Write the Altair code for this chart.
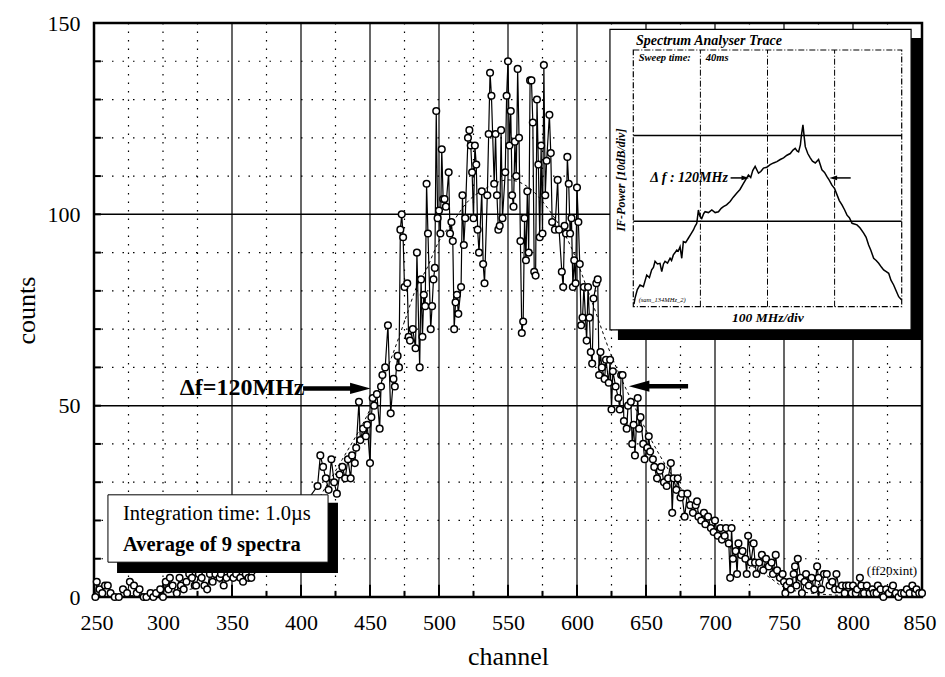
import altair as alt
import pandas as pd

# ---------------- data ----------------
tail_left = [(251,0),(252,4),(254,2),(256,1),(258,3),(260,3),(262,1),(265,0),(268,0),(271,2),(274,1),(276,4),
             (279,3),(281,1),(283,2),(286,0),(288,0),(291,1),(293,0),(295,1),(298,2),(300,0),(302,4),(304,2),
             (305,5),(307,3),(310,1),(312,5),(313,3),(315,2),(317,4),(319,6),(321,5),(323,3),(324,3),(326,6),
             (328,5),(330,3),(332,2),(334,6),(336,4),(338,6),(341,5),(342,6),(344,3),(346,5),(349,6),(351,5),
             (353,6),(356,5),(358,4),(360,6),(362,5),(364,5)]
rise = [(412,29),(414,37),(416,34),(418,31),(420,28),(422,36),(424,30),(426,27),(428,32),(430,34),(432,31),
        (434,36),(436,31),(437,37),(439,35),(440,39),(442,51),(443,41),(445,44),(447,42),(448,45),(450,35),
        (451,47),(452,52),(453,50),(455,53),(457,44),(458,55),(459,58),(461,60),(463,71),(465,48),(467,57),
        (468,55),(470,63),(471,60),(472,96),(473,100),(474,94),(475,81),(477,82),(478,68),(479,67),(481,70),
        (483,65),(484,90),(486,60),(487,83),(488,68)]
peak = [(489,79),(490,76),(491,108),(492,95),(494,70),(495,76),(496,83),(497,86),(498,127),(499,99),(500,101),
        (501,95),(502,117),(503,104),(504,104),(505,102),(507,111),(508,95),(509,98),(510,93),(511,70),(512,77),
        (513,79),(514,74),(516,81),(517,105),(518,92),(519,99),(521,120),(522,122),(523,118),(524,111),(525,99),
        (526,118),(527,113),(528,96),(529,90),(531,106),(532,87),(533,82),(535,105),(536,121),(537,137),(538,131),
        (540,108),(541,121),(542,105),(543,96),(544,97),(545,122),(546,99),(548,111),(549,131),(550,140),(551,118),
        (552,127),(553,105),(554,102),(555,119),(556,110),(557,138),(558,120),(559,93),(560,69),(561,72),(562,99),
        (563,88),(564,106),(565,90),(566,135),(567,135),(568,124),(569,85),(570,84),(571,130),(572,113),(573,94),
        (574,118),(575,95),(576,139),(577,105),(578,114),(580,126),(581,116),(582,98),(584,96),(586,109),(587,96),
        (589,85),(590,81),(591,97),(592,95),(593,115),(594,108),(595,95),(596,99),(597,81),(598,88),(599,82),
        (600,107),(601,98),(602,87)]
fall = [(603,71),(604,73),(605,81),(607,67),(608,81),(609,73),(610,64),(611,61),(612,78),(614,82),(615,83),
        (616,58),(617,64),(618,60),(620,57),(621,62),(623,56),(624,62),(625,49),(626,59),(628,55),(630,52),
        (631,49),(632,58),(633,58),(634,46),(636,44),(637,50),(639,51),(640,40),(641,45),(642,37),(644,52),
        (645,44),(646,47),(648,40),(649,36),(651,39),(652,42),(653,38),(655,36),(656,34),(658,31),(660,33),
        (661,34),(663,30),(665,29),(666,31),(668,35),(669,22),(670,31),(672,28),(673,31),(675,26),(676,27),
        (678,21),(680,27),(682,24),(684,22),(686,24),(687,25),(688,21),(690,20),(692,22),(693,19),(695,21),
        (697,18),(699,17),(700,20)]
tail_right = [(702,16),(704,18),(705,15),(707,16),(708,18),(710,14),(711,5),(712,18),(713,10),(715,12),(716,6),
              (717,14),(719,11),(720,12),(722,10),(723,6),(724,16),(726,9),(728,14),(729,9),(730,6),(732,9),
              (734,11),(735,7),(737,10),(739,8),(741,9),(742,6),(744,11),(745,7),(747,5),(749,6),(750,4),(751,1),
              (752,3),(754,4),(755,2),(757,6),(758,8),(759,3),(760,10),(762,5),(763,1),(765,4),(766,6),(768,3),
              (770,5),(772,2),(774,8),(775,5),(777,2),(779,6),(781,6),(783,3),(785,4),(787,2),(788,6),(790,2),
              (792,3),(794,1),(795,3),(797,3),(799,1),(800,3),(802,1),(803,2),(805,5),(806,3),(808,1),(810,3),
              (812,1),(814,2),(815,1),(817,1),(818,3),(820,2),(822,0),(824,2),(826,1),(828,2),(829,3),(831,1),
              (833,0),(835,1),(837,1),(839,2),(841,1),(843,3),(845,1),(846,2),(848,1),(850,1)]

fit_channel = [250,300,350,380,400,415,430,450,465,475,485,490,500,510,520,535,550,565,580,595,610,625,640,
               660,680,700,720,740,750,760,800,850]
fit_counts = [0,1,5,10,18,27,36,49,62,72,82,85,93,98,103,107,109,107,101,92,78,63,51,
              37,26,17,10,5,2.5,1.5,0.3,0]

# inset trace: frequency offset (MHz) and power (dB)
inset_mhz = [1,2.5,6,10,15,20,24,27.4,30,32.4,36,39.8,42.4,45,47.3,51,54.8,57,59.7,62,64.8,67,69.7,72.2,
             74.6,78,82,86,89.6,92,94.6,97,99,102,105,107,112,117,122,126.9,131,134.3,139,144.3,149,154.3,
             159,164.2,168,171.6,175,178,181.6,186.6,190,194,199,204,209,214,219,223.9,229,233.9,238,241.3,
             244,246.3,249,250.5,252.8,254.5,256.3,260,263.7,267,271.2,276.1,281.1,285,288.6,292,296,300,
             303.5,307,311,315,318.5,322,326,333.4,338,343.3,347,350.7,354,358.2,362,365.7,370,373.1,377,
             380.6,384,388,392,395.5,400]
inset_db = [0.3,0.98,2.0,2.54,2.34,3.7,3.4,4.3,4.6,5.3,5.0,5.07,4.1,5.0,5.3,5.1,5.66,5.4,6.05,6.3,6.63,
            6.5,7.0,5.66,7.6,7.5,8.0,8.5,8.97,9.4,9.75,11.3,10.6,10.3,10.9,11.1,11.0,11.3,11.0,11.1,11.5,
            11.7,11.9,12.3,12.8,13.3,13.7,14.4,14.9,15.4,15.1,15.9,16.4,15.6,15.8,16.2,16.3,16.6,16.8,16.96,
            17.2,17.4,17.7,17.9,18.3,18.5,18.2,18.1,18.9,20.0,21.25,20.0,18.7,17.9,17.4,17.0,16.8,17.2,16.0,
            15.7,15.2,14.8,14.2,13.8,13.1,12.4,11.9,11.3,10.7,10.4,9.75,9.56,9.2,8.6,8.1,7.2,6.6,5.66,5.4,
            5.07,4.6,4.3,4.1,3.9,3.1,2.54,1.8,1.17,0.78]

x_labels = [250, 300, 350, 400, 450, 500, 550, 600, 650, 700, 750, 800, 850]
y_labels = [0, 50, 100, 150]
x_grid_solid = [350, 400, 450, 500, 550, 600, 650, 700, 750, 800]
x_grid_dotted = [275, 300, 325, 375, 425, 475, 525, 575, 625, 675, 725, 775, 825]
y_grid_solid = [50, 100]
y_grid_dotted = [10, 20, 30, 40, 60, 70, 80, 90, 110, 120, 130, 140]
x_ticks_major = [300, 350, 400, 450, 500, 550, 600, 650, 700, 750, 800]
x_ticks_minor = [275, 325, 375, 425, 475, 525, 575, 625, 675, 725, 775, 825]
y_ticks = [10, 20, 30, 40, 50, 60, 70, 80, 90, 100, 110, 120, 130, 140]
inset_mhz_grid = [100, 200, 300]
inset_db_grid = [10, 20]

points = tail_left + rise + peak + fall + tail_right
df = pd.DataFrame(points, columns=["channel", "counts"])
fit_df = pd.DataFrame({"channel": fit_channel, "counts": fit_counts})
inset_df = pd.DataFrame({"mhz": inset_mhz, "db": inset_db})
one = pd.DataFrame({"a": [0]})

SERIF = "Liberation Serif"

xs = alt.Scale(domain=[250, 850], nice=False, zero=False)
ys = alt.Scale(domain=[0, 150], nice=False, zero=False)
x_axis = alt.Axis(values=x_labels, grid=False, ticks=False, domain=False, labelFont=SERIF,
                  labelFontSize=22, labelPadding=15, labelColor="black", title="channel",
                  titleFont=SERIF, titleFontSize=26, titleFontWeight="normal", titleColor="black",
                  titlePadding=10, labelFlush=True, labelFlushOffset=14)
y_axis = alt.Axis(values=y_labels, grid=False, ticks=False, domain=False, labelFont=SERIF,
                  labelFontSize=22, labelPadding=14, labelColor="black", title="counts",
                  titleFont=SERIF, titleFontSize=26, titleFontWeight="normal", titleColor="black",
                  titlePadding=8, labelFlush=False)


def X(field):
    return alt.X(field, type="quantitative", scale=xs, axis=x_axis, title="channel")


def Y(field):
    return alt.Y(field, type="quantitative", scale=ys, axis=y_axis, title="counts")


def vals(name, values):
    return alt.Chart(pd.DataFrame({name: values}))


base = alt.Chart(df)

grid_y_dot = vals("v", y_grid_dotted).mark_rule(color="black", strokeWidth=1.2, strokeDash=[1.5, 9]).encode(y=Y("v"))
grid_y_sol = vals("v", y_grid_solid).mark_rule(color="black", strokeWidth=1.5).encode(y=Y("v"))
grid_x_dot = vals("v", x_grid_dotted).mark_rule(color="black", strokeWidth=1.2, strokeDash=[1.5, 7]).encode(x=X("v"))
grid_x_sol = vals("v", x_grid_solid).mark_rule(color="black", strokeWidth=1.2).encode(x=X("v"))

ticks_y = vals("v", y_ticks).mark_rule(color="black", strokeWidth=2).encode(
    y=Y("v"), x=alt.datum(250), x2=alt.datum(255))
ticks_x_major = vals("v", x_ticks_major).mark_rule(color="black", strokeWidth=2).encode(
    x=X("v"), y=alt.datum(0), y2=alt.datum(3.2))
ticks_x_minor = vals("v", x_ticks_minor).mark_rule(color="black", strokeWidth=2).encode(
    x=X("v"), y=alt.datum(0), y2=alt.datum(1.6))

fit_line = alt.Chart(fit_df).mark_line(color="black", strokeWidth=1, strokeDash=[3, 3],
                                       interpolate="monotone").encode(x=X("channel"), y=Y("counts"))
data_line = base.mark_line(color="black", strokeWidth=1.2).encode(x=X("channel"), y=Y("counts"))
data_pts = base.mark_point(shape="circle", filled=True, fill="white", stroke="black", strokeWidth=1.5,
                           size=44, opacity=1).encode(x=X("channel"), y=Y("counts"))

# text box with shadow
box_shadow = alt.Chart(one).mark_rect(color="black").encode(
    x=alt.datum(266.7), x2=alt.datum(426.8), y=alt.datum(6.3), y2=alt.datum(24.6))
box = alt.Chart(one).mark_rect(fill="white", stroke="black", strokeWidth=1).encode(
    x=alt.datum(260.1), x2=alt.datum(419.6), y=alt.datum(9.1), y2=alt.datum(26.7))
box_t1 = alt.Chart(one).mark_text(text="Integration time: 1.0µs", font=SERIF, fontSize=20.5,
                                  align="left", baseline="middle", color="black").encode(
    x=alt.datum(271), y=alt.datum(21.6))
box_t2 = alt.Chart(one).mark_text(text="Average of 9 spectra", font=SERIF, fontSize=20.5,
                                  fontWeight="bold", align="left", baseline="middle",
                                  color="black").encode(x=alt.datum(271), y=alt.datum(13.6))

df_label = alt.Chart(one).mark_text(text="Δf=120MHz", font=SERIF, fontSize=24, fontWeight="bold",
                                    align="right", baseline="middle", color="black").encode(
    x=alt.datum(402.5), y=alt.datum(54.5))
arrow_l_shaft = alt.Chart(one).mark_rule(color="black", strokeWidth=4.5).encode(
    x=alt.datum(401.5), x2=alt.datum(437), y=alt.datum(54.5))
arrow_l_head = alt.Chart(one).mark_point(shape="M-1,-0.55L1,0L-1,0.55Z", filled=True, color="black",
                                         size=420, opacity=1).encode(x=alt.datum(443), y=alt.datum(54.5))
arrow_r_shaft = alt.Chart(one).mark_rule(color="black", strokeWidth=4.5).encode(
    x=alt.datum(651), x2=alt.datum(680.5), y=alt.datum(55.1))
arrow_r_head = alt.Chart(one).mark_point(shape="M1,-0.55L-1,0L1,0.55Z", filled=True, color="black",
                                         size=420, opacity=1).encode(x=alt.datum(645), y=alt.datum(55.1))
ff_label = alt.Chart(one).mark_text(text="(ff20xint)", font=SERIF, fontSize=13, align="left",
                                    baseline="middle", color="black").encode(x=alt.datum(810), y=alt.datum(6.8))

main = alt.layer(grid_y_dot, grid_y_sol, grid_x_dot, grid_x_sol, ticks_y, ticks_x_major, ticks_x_minor,
                 fit_line, data_line, data_pts, box_shadow, box, box_t1, box_t2, df_label,
                 arrow_l_shaft, arrow_l_head, arrow_r_shaft, arrow_r_head, ff_label)

# ---------------- inset ----------------
ixs = alt.Scale(domain=[0, 400], range=[539.3, 807.7], nice=False, zero=False)
iys = alt.Scale(domain=[0, 30], range=[283.7, 27], nice=False, zero=False)


def IX(field):
    return alt.X(field, type="quantitative", scale=ixs, axis=None)


def IY(field):
    return alt.Y(field, type="quantitative", scale=iys, axis=None)


def IXd(v):
    return alt.X(datum=v, scale=ixs, axis=None)


def IYd(v):
    return alt.Y(datum=v, scale=iys, axis=None)


i_shadow = alt.Chart(one).mark_rect(color="black").encode(
    x=IXd(-22.9), x2=alt.datum(429.4), y=IYd(-3.9), y2=alt.datum(31.4))
i_box = alt.Chart(one).mark_rect(fill="white", stroke="black", strokeWidth=1.2).encode(
    x=IXd(-34.8), x2=alt.datum(414), y=IYd(-2.7), y2=alt.datum(32.4))
i_frame = alt.Chart(one).mark_rect(fill="white", stroke="black", strokeWidth=1.2, strokeDash=[6, 2, 1, 2]).encode(
    x=IXd(0), x2=alt.datum(400), y=IYd(0), y2=alt.datum(30))
i_vgrid = vals("v", inset_mhz_grid).mark_rule(color="black", strokeWidth=1, strokeDash=[6, 2, 1, 2]).encode(
    x=IX("v"), y=IYd(0), y2=alt.datum(30))
i_hgrid = vals("v", inset_db_grid).mark_rule(color="black", strokeWidth=1.5).encode(
    y=IY("v"), x=IXd(0), x2=alt.datum(400))
i_trace = alt.Chart(inset_df).mark_line(color="black", strokeWidth=1.5).encode(x=IX("mhz"), y=IY("db"))


def itext(txt, x, y, size, align="left", angle=0, weight="bold"):
    return alt.Chart(one).mark_text(text=txt, font=SERIF, fontSize=size, fontStyle="italic",
                                    fontWeight=weight, align=align, baseline="middle", angle=angle,
                                    color="black").encode(x=IXd(x), y=IYd(y))


i_title = itext("Spectrum Analyser Trace", 4, 31.1, 14)
i_sweep = itext("Sweep time:", 8, 29.1, 10.5)
i_40 = itext("40ms", 108, 29.1, 10.5)
i_ylab = itext("IF-Power [10dB/div]", -18.4, 14.8, 12, align="center", angle=270)
i_xlab = itext("100 MHz/div", 200.6, -1.3, 13.5, align="center")
i_sam = itext("(sam_134MHz_2)", 8, 0.8, 6.5, weight="normal")
i_df = itext("Δ f : 120MHz", 141, 15.05, 14, align="right")
i_arr_l = alt.Chart(one).mark_rule(color="black", strokeWidth=1.5).encode(
    x=IXd(145), x2=alt.datum(166), y=IYd(15.05))
i_arr_lh = alt.Chart(one).mark_point(shape="M-1,-0.6L1,0L-1,0.6Z", filled=True, color="black", size=60,
                                     opacity=1).encode(x=IXd(167), y=IYd(15.05))
i_arr_r = alt.Chart(one).mark_rule(color="black", strokeWidth=1.5).encode(
    x=IXd(300), x2=alt.datum(324), y=IYd(15.05))
i_arr_rh = alt.Chart(one).mark_point(shape="M1,-0.6L-1,0L1,0.6Z", filled=True, color="black", size=60,
                                     opacity=1).encode(x=IXd(298), y=IYd(15.05))

inset = alt.layer(i_shadow, i_box, i_frame, i_vgrid, i_hgrid, i_trace, i_title, i_sweep, i_40, i_ylab,
                  i_xlab, i_sam, i_df, i_arr_l, i_arr_lh, i_arr_r, i_arr_rh)

chart = alt.layer(main, inset).resolve_scale(x="independent", y="independent").properties(
    width=828, height=574,
    autosize=alt.AutoSizeParams(type="none"),
    padding={"left": 86, "top": 15, "right": 15, "bottom": 72},
    background="white",
).configure_view(stroke="black", strokeWidth=2.5)

chart.save("out.html", embed_options={"renderer": "svg", "actions": False})
